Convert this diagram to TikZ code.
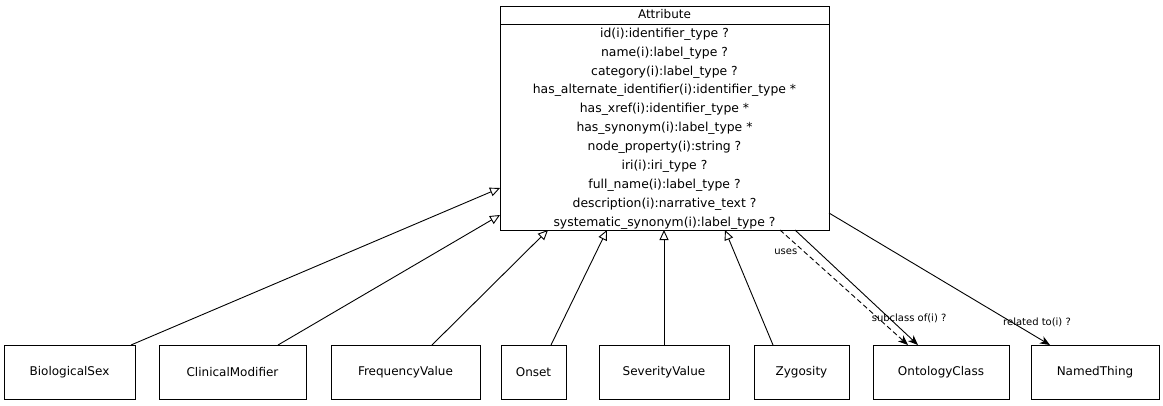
\documentclass[tikz,border=0pt]{standalone}
\usepackage{fontspec}
\setmainfont{DejaVu Sans}
\usetikzlibrary{arrows.meta,positioning,calc}
\tikzset{
  basic/.style   = {draw, rectangle, line width=0.9pt, inner sep=0pt, outer sep=0pt, font=\fontsize{12}{14}\selectfont},
  cls/.style     = {basic, minimum height=54pt},
  attrbox/.style = {basic, minimum width=329pt, minimum height=224pt},
  slots/.style   = {align=center, inner sep=0pt, font=\fontsize{12.4}{18.9}\selectfont},
  gen/.style     = {-{Triangle[open, length=10pt, width=9pt]}, line width=0.9pt},
  assoc/.style   = {-{Stealth[length=10pt, width=8pt, inset=3pt]}, line width=0.9pt},
  elabel/.style  = {font=\fontsize{10}{12}\selectfont, inner sep=1pt}
}

\begin{document}
\begin{tikzpicture}[x=1pt, y=-1pt]
\fill[white] (0,0) rectangle (1163,405);
\useasboundingbox (0,0) rectangle (1163,405);

% the class and its slots
\node[attrbox] (attr) at (664.5,118) {};
\node[font=\fontsize{12}{14}\selectfont] (attrname) at ($(attr.north)+(0,8.5)$) {Attribute};
\draw[line width=0.9pt] ($(attr.north west)+(0,18)$) -- ($(attr.north east)+(0,18)$);
\node[slots] (attrslots) at ($(attr.north)+(0,122.5)$) {
  id(i):identifier\_type ?\\
  name(i):label\_type ?\\
  category(i):label\_type ?\\
  has\_alternate\_identifier(i):identifier\_type *\\
  has\_xref(i):identifier\_type *\\
  has\_synonym(i):label\_type *\\
  node\_property(i):string ?\\
  iri(i):iri\_type ?\\
  full\_name(i):label\_type ?\\
  description(i):narrative\_text ?\\
  systematic\_synonym(i):label\_type ?};

% subclasses and related classes
\node[cls, minimum width=131pt] (bsex) at (69.5,372) {BiologicalSex};
\node[cls, minimum width=147pt, right=24pt of bsex] (cmod) {ClinicalModifier};
\node[cls, minimum width=149pt, right=25pt of cmod] (freq) {FrequencyValue};
\node[cls, minimum width=65pt, right=21pt of freq] (onset) {Onset};
\node[cls, minimum width=130pt, right=33pt of onset] (sev) {SeverityValue};
\node[cls, minimum width=95pt, right=25pt of sev] (zyg) {Zygosity};
\node[cls, minimum width=136pt, right=24pt of zyg] (oclass) {OntologyClass};
\node[cls, minimum width=128pt, right=22pt of oclass] (nthing) {NamedThing};

\path[gen] ($(bsex.north east)+(-4,0)$) edge ($(attr.west)+(0,70)$);
\path[gen] ($(cmod.north)+(45.5,0)$) edge ($(attr.west)+(0,97)$);
\path[gen] ($(freq.north)+(26.5,0)$) edge ($(attr.south west)+(48,0)$);
\path[gen] ($(onset.north)+(17.5,0)$) edge ($(attr.south west)+(107,0)$);
\path[gen] (sev.north) edge (sev.north |- attr.south);
\path[gen] ($(zyg.north)+(-28.5,0)$) edge ($(attr.south west)+(225,0)$);

\path[assoc, dash pattern=on 5pt off 3pt] ($(attr.south west)+(280,0)$) edge
  node[elabel, pos=.19, xshift=-18.5pt] (luses) {uses} ($(oclass.north)+(-33,0)$);
\path[assoc] ($(attr.south west)+(295,0)$) edge
  node[elabel, pos=.765, xshift=20pt] (lsub) {subclass of(i) ?} ($(oclass.north)+(-23,0)$);
\path[assoc] ($(attr.east)+(0,95)$) edge
  node[elabel, pos=.826, xshift=25.5pt] (lrel) {related to(i) ?} ($(nthing.north)+(-45,0)$);
\end{tikzpicture}
\end{document}
